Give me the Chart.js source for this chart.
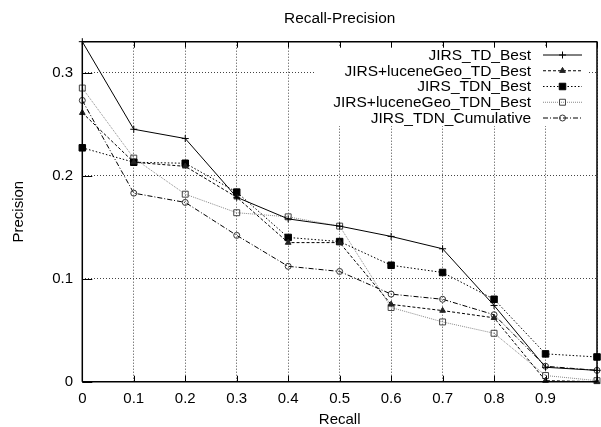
<!DOCTYPE html>
<html><head><meta charset="utf-8">
<script src="https://cdn.jsdelivr.net/npm/chart.js@4.4.0/dist/chart.umd.min.js"></script>
<style>
html,body{margin:0;padding:0;background:#fff;overflow:hidden;width:601px;height:427px}
#wrap{position:relative;width:605px;height:427px}
</style>
</head><body><div id="wrap"><canvas id="c" width="605" height="427"></canvas></div>
<script>
const recall = [0, 0.1, 0.2, 0.3, 0.4, 0.5, 0.6, 0.7, 0.8, 0.9, 1.0];
const jirsTdBest        = [0.330, 0.245, 0.236, 0.179, 0.158, 0.151, 0.141, 0.129, 0.074, 0.014, 0.011];
const luceneGeoTdBest   = [0.261, 0.213, 0.209, 0.179, 0.135, 0.135, 0.075, 0.069, 0.062, 0.001, 0.000];
const jirsTdnBest       = [0.227, 0.213, 0.212, 0.184, 0.140, 0.136, 0.113, 0.106, 0.080, 0.027, 0.024];
const luceneGeoTdnBest  = [0.285, 0.217, 0.182, 0.164, 0.160, 0.151, 0.072, 0.058, 0.047, 0.006, 0.001];
const jirsTdnCumulative = [0.273, 0.183, 0.174, 0.142, 0.112, 0.107, 0.085, 0.080, 0.065, 0.015, 0.011];
const seriesNames = ['JIRS_TD_Best', 'JIRS+luceneGeo_TD_Best', 'JIRS_TDN_Best', 'JIRS+luceneGeo_TDN_Best', 'JIRS_TDN_Cumulative'];
const xTickValues = [0, 0.1, 0.2, 0.3, 0.4, 0.5, 0.6, 0.7, 0.8, 0.9, 1.0];
const xTickLabels = ['0', '0.1', '0.2', '0.3', '0.4', '0.5', '0.6', '0.7', '0.8', '0.9', ''];
const yTickValues = [0, 0.1, 0.2, 0.3];
const yTickLabels = ['0', '0.1', '0.2', '0.3'];

const FONT = 'Liberation Sans, Arial, Helvetica, sans-serif';
const pts = arr => arr.map((v, i) => ({x: recall[i], y: v}));

const styles = [
  {borderColor:'#000', borderDash:[], pointStyle:'cross', pointRadius:3.5, pointBackgroundColor:'#000', pointBorderColor:'#000'},
  {borderColor:'#000', borderDash:[3,2], pointStyle:'triangle', pointRadius:3.3, pointBackgroundColor:'#222', pointBorderColor:'#222'},
  {borderColor:'#000', borderDash:[1.5,2], pointStyle:'rect', pointRadius:4.6, pointBackgroundColor:'#000', pointBorderColor:'#000'},
  {borderColor:'#888', borderDash:[1,1], pointStyle:'rect', pointRadius:4.2, pointBackgroundColor:'rgba(0,0,0,0)', pointBorderColor:'#444'},
  {borderColor:'#000', borderDash:[5,2,1,2], pointStyle:'circle', pointRadius:3, pointBackgroundColor:'rgba(0,0,0,0)', pointBorderColor:'#333'}
];
const seriesData = [jirsTdBest, luceneGeoTdBest, jirsTdnBest, luceneGeoTdnBest, jirsTdnCumulative];

const datasets = seriesData.map((d, i) => Object.assign({
  label: seriesNames[i], data: pts(d), borderWidth: 1, pointBorderWidth: 1,
  pointHoverRadius: styles[i].pointRadius, tension: 0, fill: false, clip: false
}, styles[i]));

const gnuplotDeco = {
  id: 'gnuplotDeco',
  afterDatasetsDraw(chart) {
    const ctx = chart.ctx;
    ctx.save();
    ctx.fillStyle = '#fff';
    ctx.fillRect(316, 46, 272, 80);
    ctx.font = '15.5px ' + FONT;
    ctx.textAlign = 'right';
    ctx.textBaseline = 'middle';
    chart.data.datasets.forEach((ds, i) => {
      const y = 55 + i * 15.75;
      ctx.fillStyle = '#000';
      ctx.fillText(ds.label, 531, y + 0.5);
      ctx.strokeStyle = ds.borderColor;
      ctx.lineWidth = 1;
      ctx.setLineDash(ds.borderDash);
      ctx.beginPath(); ctx.moveTo(543, y); ctx.lineTo(582, y); ctx.stroke();
      ctx.setLineDash([]);
      ctx.fillStyle = ds.pointBackgroundColor;
      ctx.strokeStyle = ds.pointBorderColor;
      Chart.helpers.drawPoint(ctx, {pointStyle: ds.pointStyle, radius: ds.pointRadius, rotation: 0, borderWidth: 1}, 562.5, y);
    });
    ctx.restore();
  },
  afterDraw(chart) {
    const ctx = chart.ctx, a = chart.chartArea;
    const xs = chart.scales.x, ys = chart.scales.y;
    ctx.save();
    ctx.strokeStyle = '#000';
    ctx.lineWidth = 1;
    ctx.setLineDash([]);
    ctx.beginPath();
    xTickValues.forEach(v => {
      const px = Math.round(xs.getPixelForValue(v)) + 0.5;
      ctx.moveTo(px, a.bottom); ctx.lineTo(px, a.bottom - 6);
      ctx.moveTo(px, a.top); ctx.lineTo(px, a.top + 6);
    });
    yTickValues.forEach(v => {
      const py = Math.round(ys.getPixelForValue(v)) + 0.5;
      ctx.moveTo(a.left, py); ctx.lineTo(a.left + 10, py);
    });
    ctx.stroke();
    ctx.lineWidth = 1.5;
    ctx.beginPath();
    ctx.moveTo(a.left, a.top); ctx.lineTo(a.right, a.top);
    ctx.moveTo(a.left, a.top); ctx.lineTo(a.left, a.bottom);
    ctx.moveTo(a.left, a.bottom); ctx.lineTo(a.right, a.bottom);
    ctx.moveTo(a.right, a.top); ctx.lineTo(a.right, a.bottom);
    ctx.stroke();
    ctx.restore();
  }
};

new Chart(document.getElementById('c'), {
  type: 'line',
  data: { datasets },
  options: {
    responsive: false, animation: false, devicePixelRatio: 1,
    layout: { padding: {left: 0, right: 1, top: 0, bottom: 0} },
    plugins: {
      legend: { display: false },
      tooltip: { enabled: false },
      title: { display: true, text: 'Recall-Precision', fullSize: false, color: '#000',
               font: {family: FONT, size: 15.4, weight: 'normal', lineHeight: 1.2},
               padding: {top: 9.8, bottom: 13.4} }
    },
    scales: {
      x: {
        type: 'linear', min: 0, max: 1,
        afterBuildTicks: s => { s.ticks = xTickValues.map(v => ({value: v})); },
        afterFit: s => { s.height = 45.3; },
        ticks: { callback: (v, i) => xTickLabels[i], autoSkip: false, maxRotation: 0, padding: 8,
                 color: '#000', font: {family: FONT, size: 15} },
        grid: { color: '#444', lineWidth: 1, drawTicks: false },
        border: { display: false, dash: [1, 2] },
        title: { display: true, text: 'Recall', color: '#000', padding: 0,
                 font: {family: FONT, size: 15, lineHeight: 1} }
      },
      y: {
        type: 'linear', min: 0, max: 0.33,
        afterBuildTicks: s => { s.ticks = yTickValues.map(v => ({value: v})); },
        afterFit: s => { s.width = 82.3; },
        ticks: { callback: (v, i) => yTickLabels[i], padding: 9.3, color: '#000',
                 font: {family: FONT, size: 15} },
        grid: { color: '#444', lineWidth: 1, drawTicks: false },
        border: { display: false, dash: [1, 2] },
        title: { display: true, text: 'Precision', color: '#000', padding: {top: 10.2, bottom: 0},
                 font: {family: FONT, size: 15, lineHeight: 1.2} }
      }
    }
  },
  plugins: [gnuplotDeco]
});
</script>
</body></html>
